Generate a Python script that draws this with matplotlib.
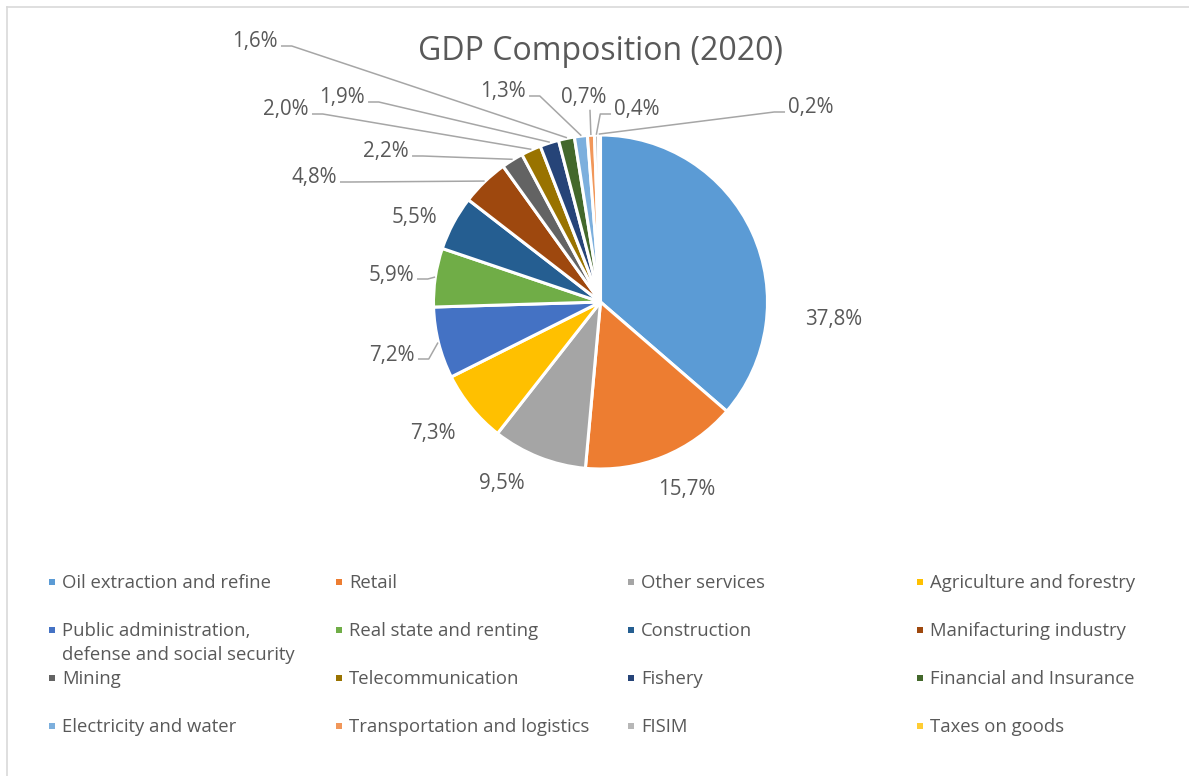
import numpy as np
import matplotlib
matplotlib.use('Agg')
import matplotlib.pyplot as plt
from matplotlib.patches import Rectangle

plt.rcParams['font.family'] = ['Open Sans', 'DejaVu Sans']

sectors = ['Oil extraction and refine', 'Retail', 'Other services', 'Agriculture and forestry',
           'Public administration,\ndefense and social security', 'Real state and renting',
           'Construction', 'Manifacturing industry', 'Mining', 'Telecommunication', 'Fishery',
           'Financial and Insurance', 'Electricity and water', 'Transportation and logistics',
           'FISIM', 'Taxes on goods']
shares = [37.8, 15.7, 9.5, 7.3, 7.2, 5.9, 5.5, 4.8, 2.2, 2.0, 1.9, 1.6, 1.3, 0.7, 0.4, 0.2]
colors = ['#5B9BD5', '#ED7D31', '#A5A5A5', '#FFC000', '#4472C4', '#70AD47', '#255E91', '#9E480E',
          '#636363', '#997300', '#264478', '#43682B', '#7CAFDD', '#F1975A', '#B7B7B7', '#FFCD33']

W, H = 1189, 776
CX, CY, R = 600.5, 302, 167
TXT = '#595959'
LEAD = '#A6A6A6'

# label centres (pixels) and which side the leader line leaves from
label_pos = [(834, 320), (687, 489), (502, 484), (433, 433), (392, 355), (391, 275), (414, 217),
             (314, 178), (386, 152), (286, 110), (342, 98), (255, 42), (503, 92), (584, 98),
             (637, 110), (811, 108)]
leader = [None, None, None, None, 'right', 'right', None, 'right', 'right', 'right', 'right',
          'right', 'right', 'bottom', 'left', 'left']

fig = plt.figure(figsize=(W / 100, H / 100), dpi=100)

# chart border (only top and left visible in crop)
fig.add_artist(plt.Line2D([7 / W, 1], [1 - 7 / H, 1 - 7 / H], color='#D9D9D9', lw=1.2))
fig.add_artist(plt.Line2D([7 / W, 7 / W], [0, 1 - 7 / H], color='#D9D9D9', lw=1.2))

ax = fig.add_axes([(CX - R) / W, 1 - (CY + R) / H, 2 * R / W, 2 * R / H])
ax.pie(shares, colors=colors, startangle=90, counterclock=False, radius=1,
       wedgeprops=dict(edgecolor='white', linewidth=2.2))
ax.set_xlim(-1, 1)
ax.set_ylim(-1, 1)
ax.set_aspect('equal')
ax.axis('off')


def to_data(px, py):
    return (px - CX) / R, (CY - py) / R


fig.text(600 / W, 1 - 51 / H, 'GDP Composition (2020)', ha='center', va='center',
         fontsize=23, color=TXT)

fig.canvas.draw()
renderer = fig.canvas.get_renderer()
total = sum(shares)
cum = np.cumsum([0] + shares[:-1])
for i, v in enumerate(shares):
    lx, ly = label_pos[i]
    t = ax.text(*to_data(lx, ly), f'{v:.1f}%'.replace('.', ','), ha='center', va='center',
                fontsize=14.8, color=TXT, clip_on=False)
    side = leader[i]
    if side is None:
        continue
    bb = t.get_window_extent(renderer)
    tl, tr = bb.x0, bb.x1
    tb = H - bb.y0
    theta = np.radians((cum[i] + v / 2) / total * 360)
    ex, ey = CX + (R + 1) * np.sin(theta), CY - (R + 1) * np.cos(theta)
    if side == 'right':
        pts = [(tr + 4, ly + 4), (tr + 14, ly + 4), (ex, ey)]
    elif side == 'left':
        pts = [(tl - 4, ly + 4), (tl - 14, ly + 4), (ex, ey)]
    else:
        pts = [(lx + 6, tb + 2), (ex, ey)]
    d = [to_data(px, py) for px, py in pts]
    ax.plot([p[0] for p in d], [p[1] for p in d], color=LEAD, lw=1.1, clip_on=False)

# legend, four columns
col_x = [52, 339, 631, 920]
row_y = [582, 630, 678, 726]
for i, name in enumerate(sectors):
    mx, my = col_x[i % 4], row_y[i // 4]
    fig.add_artist(Rectangle(((mx - 3) / W, 1 - (my + 3) / H), 6 / W, 6 / H,
                             transform=fig.transFigure, color=colors[i], lw=0))
    for k, line in enumerate(name.split('\n')):
        fig.text((mx + 10) / W, 1 - (my + 1 + 24 * k) / H, line, ha='left', va='center',
                 fontsize=13.3, color=TXT)

fig.savefig('out.png', dpi=100, facecolor='white')
